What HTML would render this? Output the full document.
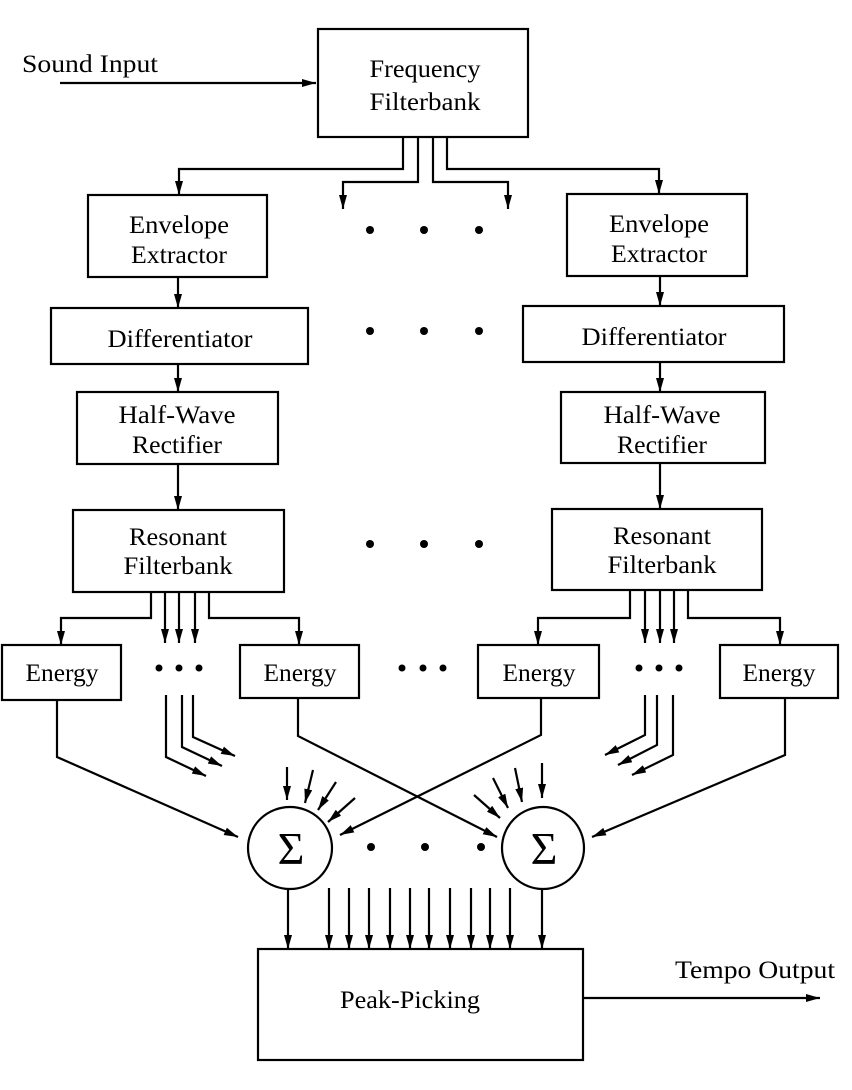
<!DOCTYPE html>
<html><head><meta charset="utf-8"><style>
html,body{margin:0;padding:0;background:#fff}
svg{display:block}
text{font-family:"Liberation Serif",serif;font-size:25px;fill:#000}
</style></head><body>
<svg width="852" height="1090" viewBox="0 0 852 1090" xmlns="http://www.w3.org/2000/svg">
<defs>
<marker id="a" viewBox="0 0 14 8" refX="14" refY="4" markerWidth="14" markerHeight="8" markerUnits="userSpaceOnUse" orient="auto">
<path d="M0,0 L14,4 L0,8 Z" fill="#000"/>
</marker>
</defs>
<g fill="none" stroke="#000" stroke-width="2.2">
<rect x="318" y="29" width="210" height="108"/>
<rect x="88" y="195" width="179" height="82"/>
<rect x="567" y="194" width="180" height="82"/>
<rect x="51" y="308" width="257" height="56"/>
<rect x="523" y="306" width="261" height="56"/>
<rect x="77" y="392" width="201" height="72"/>
<rect x="561" y="392" width="204" height="71"/>
<rect x="73" y="510" width="211" height="82"/>
<rect x="552" y="509" width="210" height="81"/>
<rect x="2" y="645" width="119" height="55"/>
<rect x="240" y="645" width="119" height="53"/>
<rect x="478" y="645" width="121" height="53"/>
<rect x="720" y="645" width="118" height="53"/>
<ellipse cx="290" cy="848" rx="42" ry="41"/>
<ellipse cx="543" cy="848" rx="41" ry="41"/>
<rect x="258" y="949" width="325" height="111"/>
</g>
<g fill="none" stroke="#000" stroke-width="2.2" marker-end="url(#a)">
<path d="M60,83 H316"/>
<path d="M403,137 V169 H179 V195"/>
<path d="M418,137 V182 H343 V209"/>
<path d="M433,137 V182 H508 V209"/>
<path d="M447,137 V169 H659 V194"/>
<path d="M178,277 V308"/>
<path d="M660,276 V306"/>
<path d="M178,364 V392"/>
<path d="M660,362 V392"/>
<path d="M178,464 V510"/>
<path d="M660,463 V509"/>
<path d="M151,592 V618 H61 V645"/>
<path d="M165,592 V643"/>
<path d="M179,592 V643"/>
<path d="M195,592 V643"/>
<path d="M209,592 V618 H299 V645"/>
<path d="M630,590 V618 H538 V645"/>
<path d="M645,590 V643"/>
<path d="M660,590 V643"/>
<path d="M674,590 V643"/>
<path d="M688,590 V618 H780 V645"/>
<path d="M166,695 V757 L206,776"/>
<path d="M182,695 V747 L222,766"/>
<path d="M193,695 V737 L235,756"/>
<path d="M645,695 V735 L605,755"/>
<path d="M657,695 V745 L618,765"/>
<path d="M673,695 V755 L632,775"/>
<path d="M57,700 V757 L238,837"/>
<path d="M298,698 V736 L497,837"/>
<path d="M541,698 V735 L340,835"/>
<path d="M785,698 V755 L592,837"/>
<path d="M287,767 V800"/>
<path d="M313,770 L305,803"/>
<path d="M336,782 L318,810"/>
<path d="M355,798 L328,822"/>
<path d="M542,763 V798"/>
<path d="M515,768 L522,802"/>
<path d="M493,778 L508,808"/>
<path d="M474,795 L500,818"/>
<path d="M288,889 V949"/>
<path d="M329,888 V949"/>
<path d="M349,888 V949"/>
<path d="M369,888 V949"/>
<path d="M390,888 V949"/>
<path d="M410,888 V949"/>
<path d="M429,888 V949"/>
<path d="M450,888 V949"/>
<path d="M471,888 V949"/>
<path d="M490,888 V949"/>
<path d="M510,888 V949"/>
<path d="M542,889 V949"/>
<path d="M583,998 H820"/>
</g>
<g fill="#000">
<circle cx="370" cy="230" r="4"/><circle cx="424" cy="230" r="4"/><circle cx="479" cy="230" r="4"/>
<circle cx="370" cy="331" r="4"/><circle cx="424" cy="331" r="4"/><circle cx="479" cy="331" r="4"/>
<circle cx="370" cy="544" r="4"/><circle cx="424" cy="544" r="4"/><circle cx="479" cy="544" r="4"/>
<circle cx="159" cy="668" r="3.5"/><circle cx="179" cy="668" r="3.5"/><circle cx="199" cy="668" r="3.5"/>
<circle cx="402" cy="668" r="3.5"/><circle cx="423" cy="668" r="3.5"/><circle cx="443" cy="668" r="3.5"/>
<circle cx="639" cy="668" r="3.5"/><circle cx="659" cy="668" r="3.5"/><circle cx="679" cy="668" r="3.5"/>
<circle cx="371" cy="847" r="4"/><circle cx="425" cy="847" r="4"/><circle cx="481" cy="847" r="4"/>
</g>
<g text-anchor="middle">
<text x="425" y="77" textLength="111" lengthAdjust="spacingAndGlyphs">Frequency</text>
<text x="425" y="110" textLength="111" lengthAdjust="spacingAndGlyphs">Filterbank</text>
<text x="179" y="233" textLength="100" lengthAdjust="spacingAndGlyphs">Envelope</text>
<text x="179" y="263" textLength="96" lengthAdjust="spacingAndGlyphs">Extractor</text>
<text x="659" y="232" textLength="100" lengthAdjust="spacingAndGlyphs">Envelope</text>
<text x="659" y="262" textLength="96" lengthAdjust="spacingAndGlyphs">Extractor</text>
<text x="180" y="347" textLength="145" lengthAdjust="spacingAndGlyphs">Differentiator</text>
<text x="654" y="345" textLength="145" lengthAdjust="spacingAndGlyphs">Differentiator</text>
<text x="177" y="423" textLength="117" lengthAdjust="spacingAndGlyphs">Half-Wave</text>
<text x="177" y="453" textLength="90" lengthAdjust="spacingAndGlyphs">Rectifier</text>
<text x="662" y="423" textLength="117" lengthAdjust="spacingAndGlyphs">Half-Wave</text>
<text x="662" y="453" textLength="90" lengthAdjust="spacingAndGlyphs">Rectifier</text>
<text x="178" y="545" textLength="98" lengthAdjust="spacingAndGlyphs">Resonant</text>
<text x="178" y="574" textLength="109" lengthAdjust="spacingAndGlyphs">Filterbank</text>
<text x="662" y="544" textLength="98" lengthAdjust="spacingAndGlyphs">Resonant</text>
<text x="662" y="573" textLength="109" lengthAdjust="spacingAndGlyphs">Filterbank</text>
<text x="62" y="681" textLength="73" lengthAdjust="spacingAndGlyphs">Energy</text>
<text x="300" y="681" textLength="73" lengthAdjust="spacingAndGlyphs">Energy</text>
<text x="539" y="681" textLength="73" lengthAdjust="spacingAndGlyphs">Energy</text>
<text x="779" y="681" textLength="73" lengthAdjust="spacingAndGlyphs">Energy</text>
<text x="410" y="1008" textLength="140" lengthAdjust="spacingAndGlyphs">Peak-Picking</text>
<text x="291" y="864" style="font-size:46px">Σ</text>
<text x="544" y="864" style="font-size:46px">Σ</text>
</g>
<text x="22" y="72" textLength="136" lengthAdjust="spacingAndGlyphs">Sound Input</text>
<text x="675" y="978" textLength="160" lengthAdjust="spacingAndGlyphs">Tempo Output</text>
</svg>
</body></html>
